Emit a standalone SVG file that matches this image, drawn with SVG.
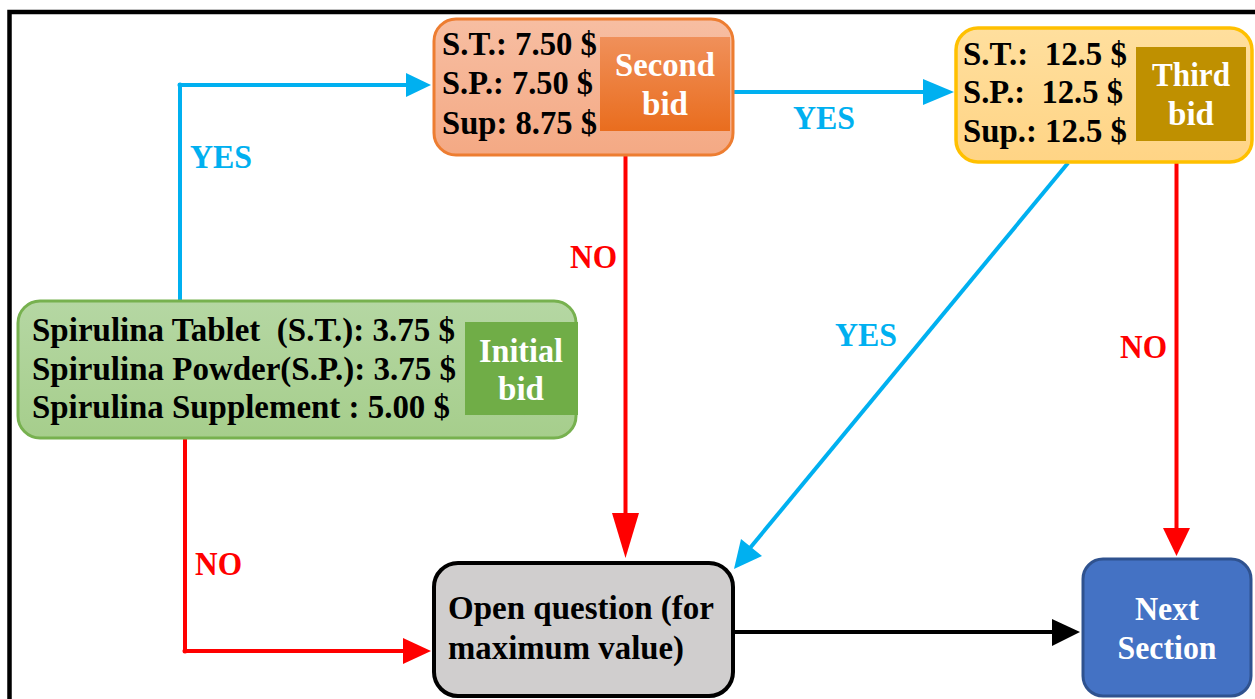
<svg xmlns="http://www.w3.org/2000/svg" width="1255" height="699" viewBox="0 0 1255 699">
<style>
text{font-family:"Liberation Serif","Times New Roman",serif;font-weight:bold;font-size:34px}
.dk{fill:#000}
.wh{fill:#fff;text-anchor:middle}
.blue{stroke:#00b0f0;stroke-width:4;fill:none}
.red{stroke:#ff0000;stroke-width:4;fill:none}
.blk{stroke:#000;stroke-width:4;fill:none}
.ly{fill:#00b0f0}
.ln{fill:#ff0000}
</style>
<defs>
<linearGradient id="gG" x1="0" y1="0" x2="0" y2="1"><stop offset="0" stop-color="#b5d7a3"/><stop offset="1" stop-color="#a6ce8c"/></linearGradient>
<linearGradient id="gO" x1="0" y1="0" x2="0" y2="1"><stop offset="0" stop-color="#f7bea2"/><stop offset="1" stop-color="#f4a984"/></linearGradient>
<linearGradient id="gOi" x1="0" y1="0" x2="0" y2="1"><stop offset="0" stop-color="#f0905a"/><stop offset="1" stop-color="#e96d1e"/></linearGradient>
<linearGradient id="gY" x1="0" y1="0" x2="0" y2="1"><stop offset="0" stop-color="#ffdf9e"/><stop offset="1" stop-color="#ffd485"/></linearGradient>
</defs>
<rect x="9.5" y="12" width="1260" height="700" fill="none" stroke="#000" stroke-width="4.5"/>
<g id="connectors">
<polyline class="blue" points="180,300 180,85 408,85"/>
<circle cx="180" cy="85" r="2.5" fill="#00b0f0"/>
<polygon points="431,85 406,73 406,97" fill="#00b0f0"/>
<line class="blue" x1="734" y1="92" x2="926" y2="92"/>
<polygon points="954,92 923,79 923,105" fill="#00b0f0"/>
<line class="blue" x1="1068" y1="163" x2="750" y2="548"/>
<polygon points="734,569 741,539 762,556" fill="#00b0f0"/>
<line class="red" x1="625.5" y1="156" x2="625.5" y2="515"/>
<polygon points="625.5,558 612,513 639,513" fill="#ff0000"/>
<line class="red" x1="1176.5" y1="162" x2="1176.5" y2="530"/>
<polygon points="1176.5,556 1163,528 1190,528" fill="#ff0000"/>
<polyline class="red" points="185,439 185,651 405,651"/>
<circle cx="185" cy="651" r="2.5" fill="#ff0000"/>
<polygon points="431,651 403,638 403,664" fill="#ff0000"/>
<line class="blk" x1="734" y1="632" x2="1054" y2="632"/>
<polygon points="1080,632 1052,619 1052,646" fill="#000"/>
<text class="ly" x="190" y="168" textLength="62" lengthAdjust="spacingAndGlyphs">YES</text>
<text class="ly" x="793" y="129" textLength="62" lengthAdjust="spacingAndGlyphs">YES</text>
<text class="ly" x="835" y="346" textLength="62" lengthAdjust="spacingAndGlyphs">YES</text>
<text class="ln" x="570" y="268" textLength="47" lengthAdjust="spacingAndGlyphs">NO</text>
<text class="ln" x="1120" y="358" textLength="47" lengthAdjust="spacingAndGlyphs">NO</text>
<text class="ln" x="195" y="575" textLength="47" lengthAdjust="spacingAndGlyphs">NO</text>
</g>
<g id="initial-bid">
<rect x="18" y="301" width="558" height="137" rx="22" fill="url(#gG)" stroke="#77b14f" stroke-width="3"/>
<rect x="465" y="322" width="113" height="93" fill="#70ad47"/>
<text class="dk" x="32" y="341" xml:space="preserve" textLength="423" lengthAdjust="spacingAndGlyphs">Spirulina Tablet  (S.T.): 3.75 $</text>
<text class="dk" x="32" y="380" textLength="424" lengthAdjust="spacingAndGlyphs">Spirulina Powder(S.P.): 3.75 $</text>
<text class="dk" x="32" y="418" textLength="418" lengthAdjust="spacingAndGlyphs">Spirulina Supplement : 5.00 $</text>
<text class="wh" x="521" y="362" textLength="84" lengthAdjust="spacingAndGlyphs">Initial</text>
<text class="wh" x="521" y="400" textLength="46" lengthAdjust="spacingAndGlyphs">bid</text>
</g>
<g id="second-bid">
<rect x="434" y="19" width="299" height="136" rx="22" fill="url(#gO)" stroke="#ed7d31" stroke-width="3"/>
<rect x="600" y="37" width="130" height="94" fill="url(#gOi)"/>
<text class="dk" x="442" y="55" textLength="155" lengthAdjust="spacingAndGlyphs">S.T.: 7.50 $</text>
<text class="dk" x="442" y="94" textLength="151" lengthAdjust="spacingAndGlyphs">S.P.: 7.50 $</text>
<text class="dk" x="442" y="134" textLength="155" lengthAdjust="spacingAndGlyphs">Sup: 8.75 $</text>
<text class="wh" x="665" y="76" textLength="100" lengthAdjust="spacingAndGlyphs">Second</text>
<text class="wh" x="665" y="115" textLength="46" lengthAdjust="spacingAndGlyphs">bid</text>
</g>
<g id="third-bid">
<rect x="956" y="28" width="296" height="134" rx="22" fill="url(#gY)" stroke="#ffc000" stroke-width="3.5"/>
<rect x="1136" y="47" width="110" height="94" fill="#bf9000"/>
<text class="dk" x="963" y="65" xml:space="preserve" textLength="164" lengthAdjust="spacingAndGlyphs">S.T.:  12.5 $</text>
<text class="dk" x="963" y="103" xml:space="preserve" textLength="160" lengthAdjust="spacingAndGlyphs">S.P.:  12.5 $</text>
<text class="dk" x="963" y="142" textLength="164" lengthAdjust="spacingAndGlyphs">Sup.: 12.5 $</text>
<text class="wh" x="1191" y="86" textLength="78" lengthAdjust="spacingAndGlyphs">Third</text>
<text class="wh" x="1191" y="125" textLength="46" lengthAdjust="spacingAndGlyphs">bid</text>
</g>
<g id="open-question">
<rect x="434" y="563" width="299" height="133" rx="24" fill="#d0cece" stroke="#000" stroke-width="4"/>
<text class="dk" x="448" y="619" textLength="266" lengthAdjust="spacingAndGlyphs">Open question (for</text>
<text class="dk" x="448" y="659" textLength="236" lengthAdjust="spacingAndGlyphs">maximum value)</text>
</g>
<g id="next-section">
<rect x="1083" y="559" width="168" height="137" rx="20" fill="#4472c4" stroke="#2f528f" stroke-width="3"/>
<text class="wh" x="1167" y="620" textLength="64" lengthAdjust="spacingAndGlyphs">Next</text>
<text class="wh" x="1167" y="659" textLength="99" lengthAdjust="spacingAndGlyphs">Section</text>
</g>
</svg>
